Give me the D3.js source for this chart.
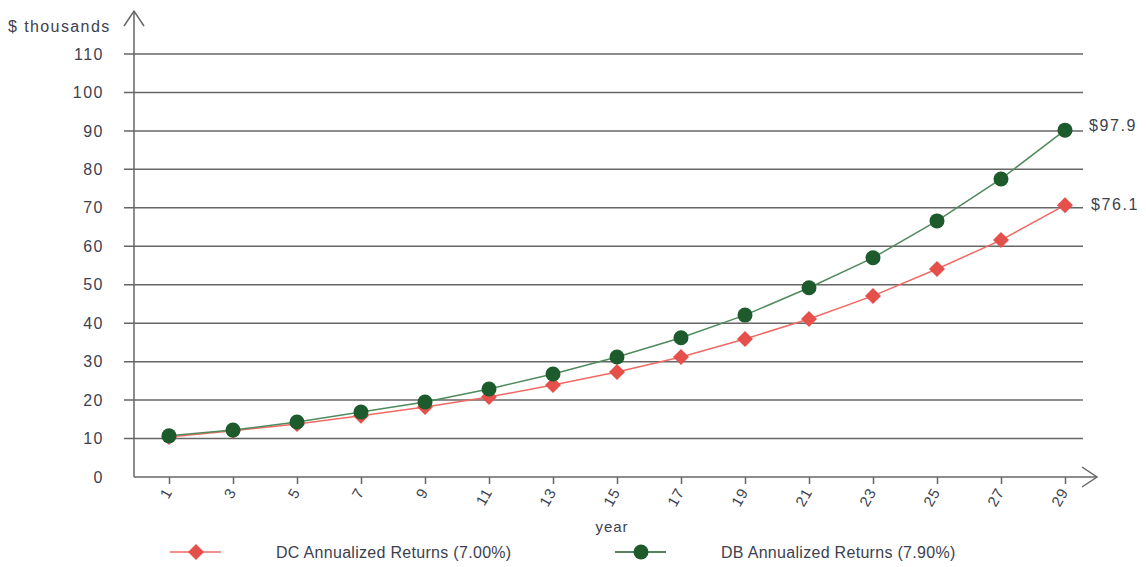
<!DOCTYPE html>
<html><head><meta charset="utf-8">
<script src="https://cdn.jsdelivr.net/npm/d3@7"></script>
<style>body{margin:0;background:#fff;} text{font-family:"Liberation Sans",Arial,sans-serif;}</style>
</head><body>
<svg id="c" width="1146" height="567"></svg>
<script>
const years = [1,3,5,7,9,11,13,15,17,19,21,23,25,27,29];
const dcValues = [10.4,12.0,13.8,15.9,18.2,20.8,23.9,27.3,31.2,35.9,41.1,47.1,54.1,61.6,70.7];
const dbValues = [10.7,12.2,14.3,16.9,19.5,22.9,26.8,31.2,36.2,42.1,49.2,57.0,66.6,77.5,90.2];
const yTicks = [0,10,20,30,40,50,60,70,80,90,100,110];
const endLabels = ["$76.1","$97.9"];
const seriesNames = ["DC Annualized Returns (7.00%)","DB Annualized Returns (7.90%)"];

const svg = d3.select("#c");
const x = d3.scaleLinear().domain([1,29]).range([169,1065]);
const y = d3.scaleLinear().domain([0,110]).range([477,54]);
const textCol = "#3c4150";
const red = "#e5504a", redLine = "#f06a64";
const green = "#1d5a2c", greenLine = "#4f8a5c";

// gridlines
svg.append("g").selectAll("line").data(yTicks.filter(d=>d>0)).join("line")
  .attr("x1",124).attr("x2",1083).attr("y1",d=>y(d)).attr("y2",d=>y(d))
  .attr("stroke","#666").attr("stroke-width",1.5);

// y axis
const yAxis = d3.axisLeft(y).tickValues(yTicks).tickSize(0).tickPadding(30);
const yg = svg.append("g").attr("transform","translate(134,0)").call(yAxis);
yg.select(".domain").remove();
yg.selectAll("text").attr("fill",textCol).style("font-size","16px").style("letter-spacing","1.5px");
svg.append("line").attr("x1",134).attr("x2",134).attr("y1",477).attr("y2",11).attr("stroke","#666").attr("stroke-width",1.5);
svg.append("path").attr("d","M124,26 L134,11 L144,26").attr("fill","none").attr("stroke","#666").attr("stroke-width",1.5);

// x axis
const xAxis = d3.axisBottom(x).tickValues(years).tickSize(7).tickSizeOuter(0);
const xg = svg.append("g").attr("transform","translate(0,477)").call(xAxis);
xg.select(".domain").remove();
xg.selectAll(".tick line").attr("stroke","#666").attr("stroke-width",1.5);
xg.selectAll("text").attr("fill",textCol).style("font-size","15px").style("letter-spacing","1px")
  .attr("text-anchor","end").attr("dy","0.35em")
  .attr("transform","translate(-1,12) rotate(-60)").attr("y",0).attr("x",0);
svg.append("line").attr("x1",134).attr("x2",1097).attr("y1",477).attr("y2",477).attr("stroke","#666").attr("stroke-width",1.5);
svg.append("path").attr("d","M1082,467 L1097,477 L1082,487").attr("fill","none").attr("stroke","#666").attr("stroke-width",1.5);

svg.append("text").attr("x",8).attr("y",32).attr("fill",textCol).style("font-size","16px").style("letter-spacing","1.4px").text("$ thousands");
svg.append("text").attr("x",612).attr("y",532).attr("text-anchor","middle").attr("fill",textCol).style("font-size","15px").style("letter-spacing","1px").text("year");

const line = d3.line().x((d,i)=>x(years[i])).y(d=>y(d));
svg.append("path").datum(dcValues).attr("d",line).attr("fill","none").attr("stroke",redLine).attr("stroke-width",1.5);
svg.append("path").datum(dbValues).attr("d",line).attr("fill","none").attr("stroke",greenLine).attr("stroke-width",1.5);

const diamond = (cx,cy,r)=>`M${cx},${cy-r}L${cx+r},${cy}L${cx},${cy+r}L${cx-r},${cy}Z`;
svg.append("g").selectAll("path").data(dcValues).join("path")
  .attr("d",(d,i)=>diamond(x(years[i]),y(d),8)).attr("fill",red);
svg.append("g").selectAll("circle").data(dbValues).join("circle")
  .attr("cx",(d,i)=>x(years[i])).attr("cy",d=>y(d)).attr("r",7.5).attr("fill",green);

// end labels
const last = years.length-1;
svg.append("text").attr("x",1091).attr("y",y(dcValues[last])+5).attr("fill",textCol).style("font-size","16px").style("letter-spacing","1.6px").text(endLabels[0]);
svg.append("text").attr("x",1089).attr("y",y(dbValues[last])+1).attr("fill",textCol).style("font-size","16px").style("letter-spacing","1.6px").text(endLabels[1]);

// legend
const lg = svg.append("g");
lg.append("line").attr("x1",170).attr("x2",221).attr("y1",552).attr("y2",552).attr("stroke",redLine).attr("stroke-width",1.5);
lg.append("path").attr("d",diamond(196,552,8)).attr("fill",red);
lg.append("text").attr("x",276).attr("y",558).attr("fill",textCol).style("font-size","16px").style("letter-spacing","0.3px").text(seriesNames[0]);
lg.append("line").attr("x1",615).attr("x2",666).attr("y1",552).attr("y2",552).attr("stroke",green).attr("stroke-width",1.5);
lg.append("circle").attr("cx",641).attr("cy",552).attr("r",7.5).attr("fill",green);
lg.append("text").attr("x",721).attr("y",558).attr("fill",textCol).style("font-size","16px").style("letter-spacing","0.3px").text(seriesNames[1]);
</script>
</body></html>
